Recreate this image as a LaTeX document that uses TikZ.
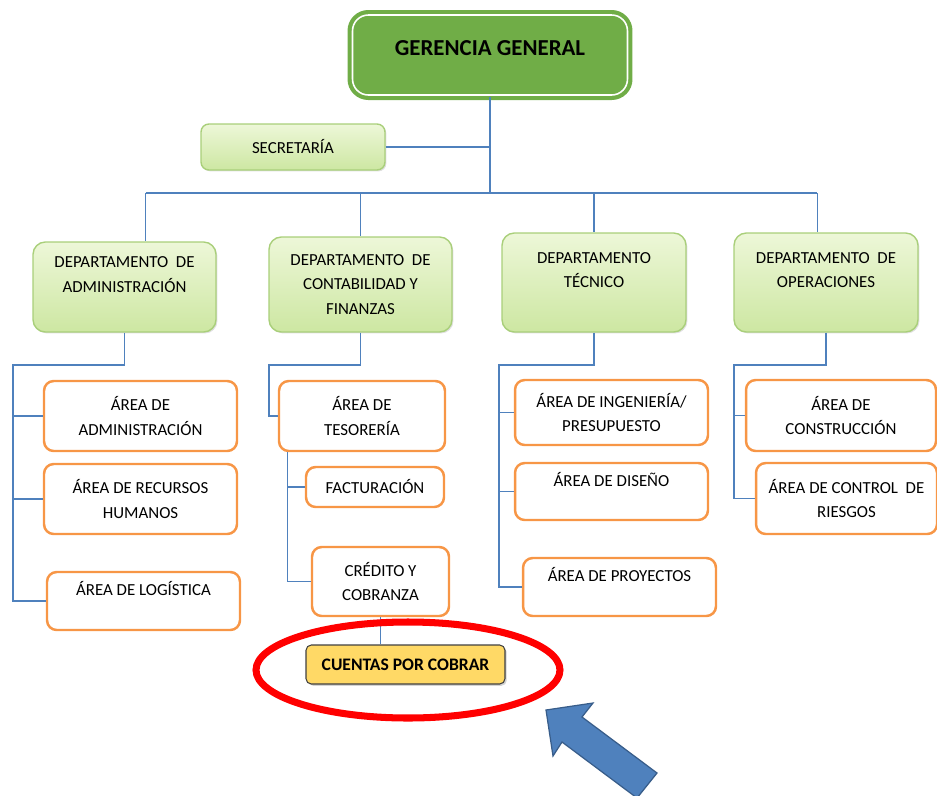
\documentclass[tikz,border=0pt]{standalone}
\usepackage{fontspec}
\setmainfont{Carlito}
\usepackage{tikz}
\usetikzlibrary{positioning}
\usetikzlibrary{shadows}
\definecolor{lineblue}{HTML}{4F81BD}
\definecolor{areaorange}{HTML}{F79646}
\definecolor{gergreen}{HTML}{70AD47}
\definecolor{deptborder}{HTML}{A9CF7A}
\definecolor{depttop}{HTML}{EDF7D8}
\definecolor{deptbottom}{HTML}{CDE7A2}
\definecolor{cuentasfill}{HTML}{FFD966}
\definecolor{arrowline}{HTML}{385D8A}

\begin{document}
\begin{tikzpicture}[
        x=0.02cm, y=-0.02cm,
        every node/.style = {
        align=center, inner sep=1pt, font=\fontsize{9.6}{14}\selectfont
        },
        gerbox/.style = {
        draw=gergreen, double=white, double distance=0.9pt, line width=2.4pt,
        fill=gergreen, rounded corners=9pt, minimum width=5.5cm, minimum height=1.6cm,
        text depth=8pt, font=\bfseries\fontsize{13}{15}\selectfont
        },
        dept/.style 2 args = {
        draw=deptborder, line width=0.8pt, top color=depttop, bottom color=deptbottom,
        rounded corners=7pt, minimum width=#1, minimum height=#2,
        drop shadow={shadow xshift=0.8pt, shadow yshift=-0.8pt, opacity=0.25}
        },
        area/.style 2 args = {
        draw=areaorange, line width=1.4pt, fill=white,
        rounded corners=5.5pt, minimum width=#1, minimum height=#2
        },
        conn/.style = {draw=lineblue, line width=0.8pt}
        ]
    \useasboundingbox (0,0) rectangle (937,795);

    \node[gerbox] (ger) at (490,55) {GERENCIA GENERAL};
    \node[dept={3.68cm}{0.92cm}, rounded corners=4.5pt] (sec) at (293,147) {SECRETARÍA};

    \node[dept={3.66cm}{1.8cm}] (d1) at (124.5,287) {DEPARTAMENTO\ \ DE\\ADMINISTRACIÓN\\\mbox{}};
    \node[dept={3.66cm}{1.9cm}] (d2) at (360.5,284.5) {DEPARTAMENTO\ \ DE\\CONTABILIDAD\ Y\\FINANZAS};
    \node[dept={3.68cm}{1.98cm}] (d3) at (594,282.5) {DEPARTAMENTO\\TÉCNICO\\\mbox{}};
    \node[dept={3.68cm}{1.98cm}] (d4) at (826,282.5) {DEPARTAMENTO\ \ DE\\OPERACIONES\\\mbox{}};

    \node[area={3.86cm}{1.4cm}] (adm) at (140.5,416) {ÁREA DE\\ADMINISTRACIÓN};
    \node[area={3.86cm}{1.4cm}] (rrhh) at (140.5,499) {ÁREA DE RECURSOS\\HUMANOS};
    \node[area={3.86cm}{1.16cm}] (log) at (143.5,601) {ÁREA DE LOGÍSTICA\\\mbox{}};

    \node[area={3.32cm}{1.4cm}] (tes) at (362,416) {ÁREA DE\\TESORERÍA};
    \node[area={2.76cm}{0.8cm}] (fac) at (375,487) {FACTURACIÓN};
    \node[area={2.74cm}{1.38cm}] (cre) at (380.5,581.5) {CRÉDITO Y\\COBRANZA};
    \node[draw=black!75, fill=cuentasfill, rounded corners=3pt, line width=0.6pt,
        minimum width=3.98cm, minimum height=0.78cm,
        font=\bfseries\fontsize{10}{12}\selectfont,
        drop shadow={shadow xshift=1pt, shadow yshift=-1pt, opacity=0.35}] (cc) at (405.5,664.5) {CUENTAS POR COBRAR};

    \node[area={3.86cm}{1.3cm}] (ing) at (611.5,412.5) {ÁREA DE INGENIERÍA/\\PRESUPUESTO};
    \node[area={3.86cm}{1.14cm}] (dis) at (611.5,491.5) {ÁREA DE DISEÑO\\\mbox{}};
    \node[area={3.86cm}{1.16cm}] (pro) at (619.5,587) {ÁREA DE PROYECTOS\\\mbox{}};

    \node[area={3.8cm}{1.42cm}] (con) at (841,415.5) {ÁREA DE\\CONSTRUCCIÓN};
    \node[area={3.62cm}{1.42cm}] (rie) at (846.5,498.5) {ÁREA DE CONTROL\ \ DE\\RIESGOS};

    \coordinate (bus) at (0,193);
    \draw[conn] (ger.south) -- (ger.south |- bus);
    \draw[conn] (sec.east) -- (sec.east -| ger.south);
    \draw[conn] ([xshift=12pt]d1.north |- bus) -- ([xshift=-5pt]d4.north |- bus);
    \draw[conn] ([xshift=12pt]d1.north |- bus) -- ([xshift=12pt]d1.north);
    \draw[conn] ([xshift=-5pt]d4.north |- bus) -- ([xshift=-5pt]d4.north);
    \foreach \d in {d2,d3}
        \draw[conn] (\d.north |- bus) -- (\d.north);

    \coordinate (b1) at (13,365);
    \draw[conn] (d1.south) |- (b1) |- (adm.west);
    \draw[conn] (b1) |- (rrhh.west);
    \draw[conn] (b1) |- (log.west);

    \coordinate (b2) at (269,365);
    \draw[conn] (d2.south) |- (b2) |- (tes.west);
    \draw[conn] (tes.south west) ++(10,0) |- (fac.west);
    \draw[conn] (tes.south west) ++(10,0) |- (cre.west);
    \draw[conn] (cre.south) -- (cre.south |- cc.north);

    \coordinate (b3) at (499,365);
    \draw[conn] (d3.south) |- (b3) |- (ing.west);
    \draw[conn] (b3) |- (dis.west);
    \draw[conn] (b3) |- (pro.west);

    \coordinate (b4) at (734,365);
    \draw[conn] (d4.south) |- (b4) |- (con.west);
    \draw[conn] (b4) |- (rie.west);

    \draw[red, line width=4pt] (408,670) ellipse [x radius=152, y radius=48];

    \draw[draw=arrowline, fill=lineblue, line width=0.7pt, line join=miter]
        (546,710) -- (593,703) -- (582,717) -- (657,773) -- (637,798)
        -- (562,742) -- (553,756) -- cycle;
\end{tikzpicture}
\end{document}
